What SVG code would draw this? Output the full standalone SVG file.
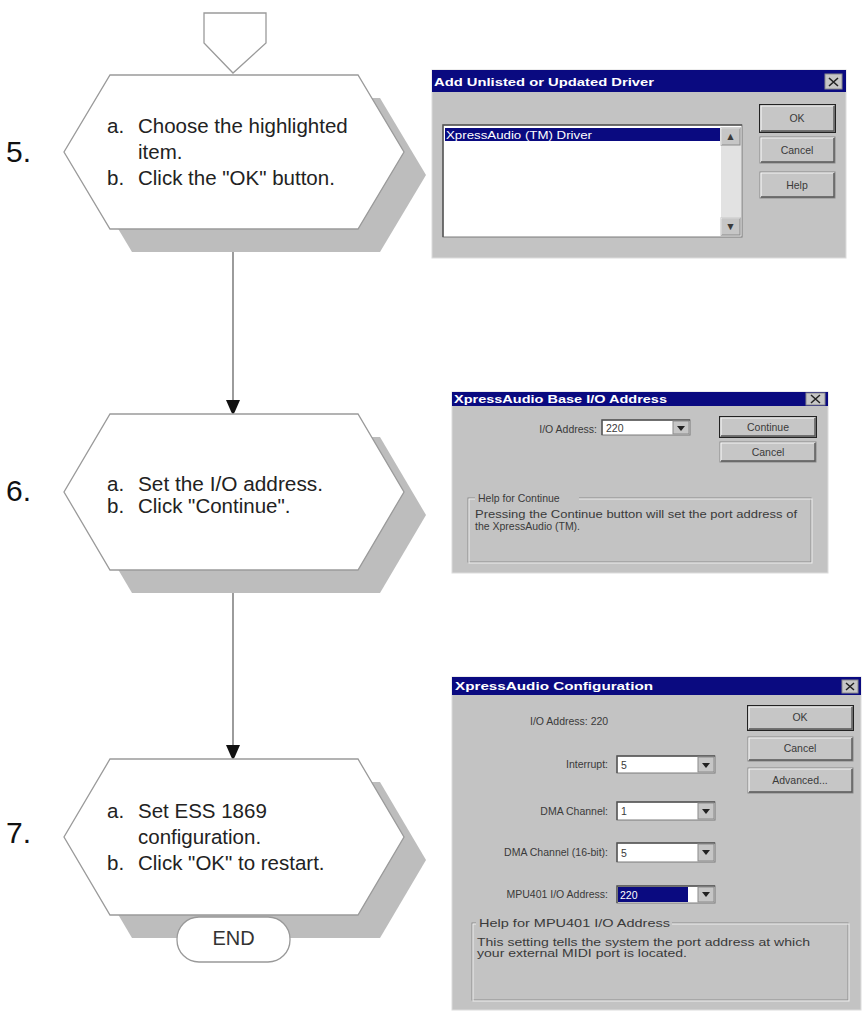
<svg xmlns="http://www.w3.org/2000/svg" width="864" height="1011" viewBox="0 0 864 1011">
<style>
.hex{fill:#fff;stroke:#9a9a9a;stroke-width:1.3}
.shadow{fill:#bdbdbd}
.ht{font-family:"Liberation Sans",Arial,sans-serif;font-size:20.5px;fill:#222}
.num{font-family:"Liberation Sans",Arial,sans-serif;font-size:30px;fill:#111}
.conn{stroke:#666;stroke-width:1.3;fill:none}
.term{fill:#fff;stroke:#999;stroke-width:1.3}
.dlg{fill:#c3c3c3;stroke:#dcdcdc;stroke-width:1}
.title{fill:#0a0a80}
.tt{font-family:"Liberation Sans",Arial,sans-serif;font-size:11px;font-weight:bold;fill:#fff}
.dt{font-family:"Liberation Sans",Arial,sans-serif;font-size:10.5px;fill:#3a3a3a}
.dtw{font-family:"Liberation Sans",Arial,sans-serif;font-size:10.5px;fill:#fff}
.btn{fill:#c6c6c6;stroke:#8a8a8a;stroke-width:1}
.hl{stroke:#f4f4f4;stroke-width:1.2;fill:none}
.dk{stroke:#555;stroke-width:1.4;fill:none}
.def{fill:none;stroke:#222;stroke-width:1}
.field{fill:#fff;stroke:#7a7a7a;stroke-width:1}
.grp{fill:none;stroke:#8c8c8c;stroke-width:1}
.grpw{fill:none;stroke:#eeeeee;stroke-width:1}
.sel{fill:#0a0a80}
</style>
<defs>
<marker id="ah" viewBox="0 0 14 14" refX="14" refY="7" markerWidth="14" markerHeight="14" markerUnits="userSpaceOnUse" orient="auto">
<path d="M0,0 L12.5,5.5 Q14.5,7 12.5,8.5 L0,14 Z" fill="#111"/>
</marker>
</defs>
<rect width="864" height="1011" fill="#fff"/>

<g id="connectors">
<line class="conn" x1="233" y1="229" x2="233" y2="414" marker-end="url(#ah)"/>
<line class="conn" x1="233" y1="570" x2="233" y2="759" marker-end="url(#ah)"/>
</g>

<g id="start-connector">
<polygon class="hex" points="204,13 266,13 266,43 233,73 204,43"/>
</g>

<g id="step5">
<polygon class="shadow" points="132,98 380,98 426,175 380,252 132,252 86,175"/>
<polygon class="hex" points="110,75 358,75 404,152 358,229 110,229 64,152"/>
<text class="num" x="6" y="162">5.</text>
<text class="ht" x="107" y="133">a.</text>
<text class="ht" x="138" y="133">Choose the highlighted</text>
<text class="ht" x="138" y="159">item.</text>
<text class="ht" x="107" y="185">b.</text>
<text class="ht" x="138" y="185">Click the "OK" button.</text>
</g>

<g id="step6">
<polygon class="shadow" points="132,437 380,437 426,515 380,593 132,593 86,515"/>
<polygon class="hex" points="110,414 358,414 404,492 358,570 110,570 64,492"/>
<text class="num" x="6" y="501">6.</text>
<text class="ht" x="107" y="491" font-size="19.5">a.</text>
<text class="ht" x="138" y="491" font-size="19.5" textLength="185" lengthAdjust="spacingAndGlyphs">Set the I/O address.</text>
<text class="ht" x="107" y="513" font-size="19.5">b.</text>
<text class="ht" x="138" y="513" font-size="19.5">Click "Continue".</text>
</g>

<g id="step7">
<polygon class="shadow" points="132,782 380,782 426,860 380,938 132,938 86,860"/>
<polygon class="hex" points="110,759 358,759 404,837 358,915 110,915 64,837"/>
<text class="num" x="6" y="843">7.</text>
<text class="ht" x="107" y="818">a.</text>
<text class="ht" x="138" y="818">Set ESS 1869</text>
<text class="ht" x="138" y="844">configuration.</text>
<text class="ht" x="107" y="870">b.</text>
<text class="ht" x="138" y="870">Click "OK" to restart.</text>
</g>

<g id="end">
<rect class="term" x="177" y="917" width="113" height="45" rx="22" ry="22"/>
<text x="233.5" y="945" text-anchor="middle" font-family="Liberation Sans, Arial, sans-serif" font-size="20" fill="#333">END</text>
</g>

<g id="dialog1">
<rect class="dlg" x="432" y="70" width="414" height="188"/>
<rect class="title" x="432" y="70" width="414" height="22"/>
<text class="tt" x="434" y="86" textLength="220" lengthAdjust="spacingAndGlyphs">Add Unlisted or Updated Driver</text>
<rect class="btn" x="825" y="74" width="17" height="15"/>
<path d="M829,78 L838,86 M838,78 L829,86" stroke="#222" stroke-width="1.6"/>
<rect class="field" x="443" y="125" width="299" height="112"/>
<path class="dk" d="M443,237 V125 H742"/>
<rect class="sel" x="445" y="128" width="275" height="13"/>
<text class="dtw" x="446" y="139" textLength="146" lengthAdjust="spacingAndGlyphs">XpressAudio (TM) Driver</text>
<rect x="721" y="127" width="20" height="109" fill="#e2e2e2"/>
<rect class="btn" x="721" y="128" width="19" height="17"/>
<path class="hl" d="M721,145 V128 H740"/>
<text class="dt" x="730.5" y="140" text-anchor="middle" font-size="9">▲</text>
<rect class="btn" x="721" y="218" width="19" height="17"/>
<path class="hl" d="M721,235 V218 H740"/>
<text class="dt" x="730.5" y="230" text-anchor="middle" font-size="9">▼</text>
<rect class="btn" x="760" y="105" width="75" height="27"/>
<path class="hl" d="M761,131 V106 H834"/>
<path class="dk" d="M761,131 H834 V106"/>
<rect class="def" x="759.5" y="104.5" width="76" height="28"/>
<text class="dt" x="797" y="122" text-anchor="middle">OK</text>
<rect class="btn" x="760" y="137" width="75" height="26"/>
<path class="hl" d="M761,162 V138 H834"/>
<path class="dk" d="M761,162 H834 V138"/>
<text class="dt" x="797" y="154" text-anchor="middle">Cancel</text>
<rect class="btn" x="760" y="172" width="75" height="26"/>
<path class="hl" d="M761,197 V173 H834"/>
<path class="dk" d="M761,197 H834 V173"/>
<text class="dt" x="797" y="189" text-anchor="middle">Help</text>
</g>

<g id="dialog2">
<rect class="dlg" x="452" y="392" width="376" height="181"/>
<rect class="title" x="452" y="392" width="376" height="14"/>
<text class="tt" x="454" y="403" font-size="10" textLength="213" lengthAdjust="spacingAndGlyphs">XpressAudio Base I/O Address</text>
<rect class="btn" x="806" y="393" width="19" height="12"/>
<path d="M811,395 L820,403 M820,395 L811,403" stroke="#222" stroke-width="1.5"/>
<text class="dt" x="597" y="433" text-anchor="end">I/O Address:</text>
<rect class="field" x="602" y="420" width="88" height="15"/>
<path class="dk" d="M602,435 V420 H690"/>
<text class="dt" x="606" y="432">220</text>
<rect class="btn" x="673" y="421" width="16" height="13"/>
<path d="M677,426 H685 L681,431 Z" fill="#222"/>
<rect class="btn" x="720" y="417" width="96" height="20"/>
<path class="hl" d="M721,436 V418 H815"/>
<path class="dk" d="M721,436 H815 V418"/>
<rect class="def" x="719.5" y="416.5" width="97" height="21"/>
<text class="dt" x="768" y="431" text-anchor="middle">Continue</text>
<rect class="btn" x="720" y="442" width="96" height="20"/>
<path class="hl" d="M721,461 V443 H815"/>
<path class="dk" d="M721,461 H815 V443"/>
<text class="dt" x="768" y="456" text-anchor="middle">Cancel</text>
<rect class="grp" x="468" y="498" width="343" height="64"/>
<rect class="grpw" x="469" y="499" width="343" height="64"/>
<rect x="475" y="494" width="104" height="10" fill="#c3c3c3"/>
<text class="dt" x="478" y="502">Help for Continue</text>
<text class="dt" x="475" y="518" textLength="322" lengthAdjust="spacingAndGlyphs">Pressing the Continue button will set the port address of</text>
<text class="dt" x="475" y="530">the XpressAudio (TM).</text>
</g>

<g id="dialog3">
<rect class="dlg" x="452" y="677" width="409" height="333"/>
<rect class="title" x="452" y="677" width="409" height="18"/>
<text class="tt" x="455" y="690" textLength="198" lengthAdjust="spacingAndGlyphs">XpressAudio Configuration</text>
<rect class="btn" x="842" y="680" width="16" height="13"/>
<path d="M846,683 L854,690 M854,683 L846,690" stroke="#222" stroke-width="1.5"/>
<text class="dt" x="530" y="725">I/O Address: 220</text>
<text class="dt" x="608" y="768" text-anchor="end">Interrupt:</text>
<rect class="field" x="617" y="756" width="98" height="17"/>
<path class="dk" d="M617,773 V756 H715"/>
<text class="dt" x="621" y="769">5</text>
<rect class="btn" x="698" y="757" width="16" height="15"/>
<path d="M702,763 H710 L706,768 Z" fill="#222"/>
<text class="dt" x="608" y="815" text-anchor="end">DMA Channel:</text>
<rect class="field" x="617" y="802" width="98" height="18"/>
<path class="dk" d="M617,820 V802 H715"/>
<text class="dt" x="621" y="815">1</text>
<rect class="btn" x="698" y="803" width="16" height="16"/>
<path d="M702,809 H710 L706,814 Z" fill="#222"/>
<text class="dt" x="608" y="856" text-anchor="end">DMA Channel (16-bit):</text>
<rect class="field" x="617" y="843" width="98" height="19"/>
<path class="dk" d="M617,862 V843 H715"/>
<text class="dt" x="621" y="857">5</text>
<rect class="btn" x="698" y="844" width="16" height="17"/>
<path d="M702,850 H710 L706,855 Z" fill="#222"/>
<text class="dt" x="608" y="898" text-anchor="end">MPU401 I/O Address:</text>
<rect class="field" x="617" y="886" width="98" height="17"/>
<path class="dk" d="M617,903 V886 H715"/>
<rect class="sel" x="618" y="887" width="70" height="15"/>
<text class="dtw" x="620" y="899">220</text>
<rect class="btn" x="698" y="887" width="16" height="15"/>
<path d="M702,892 H710 L706,897 Z" fill="#222"/>
<rect class="btn" x="748" y="706" width="105" height="24"/>
<path class="hl" d="M749,729 V707 H852"/>
<path class="dk" d="M749,729 H852 V707"/>
<rect class="def" x="747.5" y="705.5" width="106" height="25"/>
<text class="dt" x="800" y="721" text-anchor="middle">OK</text>
<rect class="btn" x="748" y="737" width="105" height="24"/>
<path class="hl" d="M749,760 V738 H852"/>
<path class="dk" d="M749,760 H852 V738"/>
<text class="dt" x="800" y="752" text-anchor="middle">Cancel</text>
<rect class="btn" x="748" y="768" width="105" height="25"/>
<path class="hl" d="M749,792 V769 H852"/>
<path class="dk" d="M749,792 H852 V769"/>
<text class="dt" x="800" y="784" text-anchor="middle">Advanced...</text>
<rect class="grp" x="472" y="923" width="376" height="77"/>
<rect class="grpw" x="473" y="924" width="376" height="77"/>
<rect x="476" y="919" width="196" height="10" fill="#c3c3c3"/>
<text class="dt" x="479" y="927" textLength="191" lengthAdjust="spacingAndGlyphs">Help for MPU401 I/O Address</text>
<text class="dt" x="477" y="946" textLength="333" lengthAdjust="spacingAndGlyphs">This setting tells the system the port address at which</text>
<text class="dt" x="477" y="957" textLength="210" lengthAdjust="spacingAndGlyphs">your external MIDI port is located.</text>
</g>
</svg>
